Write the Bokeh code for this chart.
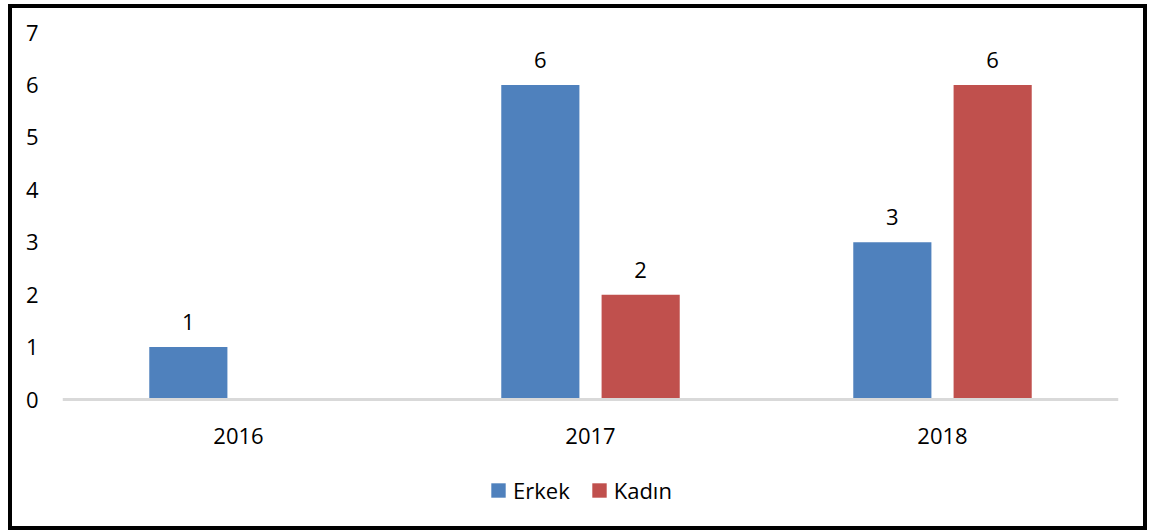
from bokeh.plotting import figure
from bokeh.models import ColumnDataSource, FactorRange, Range1d, LabelSet, Legend, LegendItem
from bokeh.transform import dodge
from bokeh.core.properties import value
from bokeh.embed import file_html
from bokeh.resources import INLINE

years = ["2016", "2017", "2018"]
erkek = [1, 6, 3]
kadin = [0, 2, 6]
yticks = [0, 1, 2, 3, 4, 5, 6, 7]

BLUE = "#4F81BD"
RED = "#C0504D"
FONT = "Open Sans"

src = ColumnDataSource(dict(year=years, erkek=erkek, kadin=kadin))

p = figure(x_range=FactorRange(*years), y_range=Range1d(-2.193, 7),
           width=1139, height=526, output_backend="svg", toolbar_location=None,
           min_border_left=50, min_border_right=33, min_border_top=24, min_border_bottom=20)
p.styles = {"border": "4px solid black", "margin-left": "8px", "margin-top": "4px"}
p.x_range.range_padding = 0
p.background_fill_color = "white"
p.border_fill_color = "white"
p.outline_line_color = None
p.grid.grid_line_color = None

r1 = p.vbar(x=dodge("year", -0.1425, range=p.x_range), top="erkek", width=0.222,
            source=src, fill_color=BLUE, line_color=None)
r2 = p.vbar(x=dodge("year", 0.1425, range=p.x_range), top="kadin", width=0.222,
            source=src, fill_color=RED, line_color=None)

lab1 = ColumnDataSource(dict(year=[y for y, v in zip(years, erkek) if v > 0],
                             v=[v for v in erkek if v > 0],
                             t=[str(v) for v in erkek if v > 0]))
lab2 = ColumnDataSource(dict(year=[y for y, v in zip(years, kadin) if v > 0],
                             v=[v for v in kadin if v > 0],
                             t=[str(v) for v in kadin if v > 0]))
for s, off in ((lab1, -0.1425), (lab2, 0.1425)):
    p.add_layout(LabelSet(x=dodge("year", off, range=p.x_range), y="v", text="t", source=s,
                          y_offset=17, text_align="center", text_baseline="bottom",
                          text_font=value(FONT), text_font_size="22px", text_color="black"))

p.yaxis.ticker = yticks
p.yaxis.axis_line_color = None
p.yaxis.major_tick_line_color = None
p.yaxis.minor_tick_line_color = None
p.yaxis.major_label_standoff = 18
p.yaxis.major_label_text_font = FONT
p.yaxis.major_label_text_font_size = "22px"
p.yaxis.major_label_text_color = "black"

p.xaxis.fixed_location = 0
p.xaxis.axis_line_color = "#D9D9D9"
p.xaxis.axis_line_width = 3
p.xaxis.major_tick_line_color = None
p.xaxis.minor_tick_line_color = None
p.xaxis.major_label_standoff = 22
p.xaxis.major_label_text_font = FONT
p.xaxis.major_label_text_font_size = "22px"
p.xaxis.major_label_text_color = "black"

legend = Legend(items=[LegendItem(label="Erkek", renderers=[r1]),
                       LegendItem(label="Kadın", renderers=[r2])],
                orientation="horizontal", location=(427, 9),
                label_text_font=FONT, label_text_font_size="22px", label_text_color="black",
                glyph_width=18, glyph_height=18, spacing=20, label_standoff=6,
                border_line_color=None, background_fill_alpha=0, margin=0, padding=0)
p.add_layout(legend, "center")

open("out.html", "w").write(file_html(p, INLINE))
